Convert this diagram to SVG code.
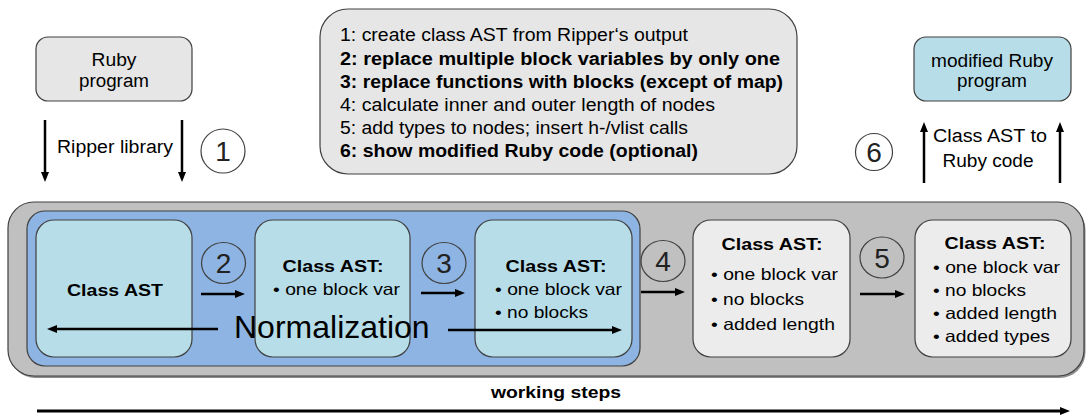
<svg xmlns="http://www.w3.org/2000/svg" width="1087" height="416" viewBox="0 0 1087 416">
<style>
text{font-family:"Liberation Sans",Arial,sans-serif;fill:#000}
.b{font-weight:bold}
.t{font-size:17.5px}
.s{font-size:16.5px}
.m{font-size:18px}
.c{text-anchor:middle}
.num{font-size:28px;text-anchor:middle;fill:#222}
.gray{fill:#e6e6e6;stroke:#404040;stroke-width:1.2}
.lgray{fill:#ececec;stroke:#404040;stroke-width:1.2}
.teal{fill:#b7dee8;stroke:#404040;stroke-width:1.2}
.circ{fill:none;stroke:#404040;stroke-width:1.2}
.arr{stroke:#000;stroke-width:2.5;fill:none;marker-end:url(#ah)}
</style>
<defs>
<marker id="ah" markerWidth="10" markerHeight="8" refX="2" refY="4" orient="auto" markerUnits="userSpaceOnUse"><path d="M0,0 L10,4 L0,8 z" fill="#000"/></marker>
</defs>
<rect width="1087" height="416" fill="#fff"/>

<g id="ruby-program">
<rect class="gray" x="36" y="37" width="156" height="64" rx="12"/>
<text class="m c" x="114" y="66" textLength="45" lengthAdjust="spacingAndGlyphs">Ruby</text>
<text class="m c" x="114" y="87" textLength="70" lengthAdjust="spacingAndGlyphs">program</text>
</g>

<g id="legend">
<rect class="gray" x="320" y="9" width="477" height="165" rx="28"/>
<text class="t" x="340" y="41" textLength="348" lengthAdjust="spacingAndGlyphs">1: create class AST from Ripper‘s output</text>
<text class="t b" x="340" y="64.5" textLength="440" lengthAdjust="spacingAndGlyphs">2: replace multiple block variables by only one</text>
<text class="t b" x="340" y="88" textLength="443" lengthAdjust="spacingAndGlyphs">3: replace functions with blocks (except of map)</text>
<text class="t" x="340" y="111" textLength="375" lengthAdjust="spacingAndGlyphs">4: calculate inner and outer length of nodes</text>
<text class="t" x="340" y="134" textLength="348" lengthAdjust="spacingAndGlyphs">5: add types to nodes; insert h-/vlist calls</text>
<text class="t b" x="340" y="157" textLength="358" lengthAdjust="spacingAndGlyphs">6: show modified Ruby code (optional)</text>
</g>

<g id="modified-ruby">
<rect class="teal" x="914" y="37" width="157" height="64" rx="12"/>
<text class="m c" x="992" y="66.5" textLength="122" lengthAdjust="spacingAndGlyphs">modified Ruby</text>
<text class="m c" x="992" y="87" textLength="70" lengthAdjust="spacingAndGlyphs">program</text>
</g>

<g id="label-ripper">
<text class="m" x="57" y="153" textLength="116" lengthAdjust="spacingAndGlyphs">Ripper library</text>
</g>
<g id="label-toruby">
<text class="m c" x="990" y="142" textLength="114" lengthAdjust="spacingAndGlyphs">Class AST to</text>
<text class="m c" x="988" y="166.5" textLength="91" lengthAdjust="spacingAndGlyphs">Ruby code</text>
</g>

<g id="step1"><ellipse class="circ" cx="223" cy="151" rx="22" ry="22"/><text class="num" x="223" y="161">1</text></g>
<g id="step6"><ellipse class="circ" cx="874" cy="152" rx="18.5" ry="18.5"/><text class="num" x="874" y="162">6</text></g>

<g id="working-steps">
<rect x="9.5" y="204" width="1076" height="174" rx="26" fill="#8c8c8c"/>
<rect x="8" y="202" width="1076" height="174" rx="26" fill="#c0c0c0" stroke="#404040" stroke-width="1.2"/>
</g>

<g id="normalization">
<rect x="27" y="211" width="613" height="155" rx="18" fill="#8db4e2" stroke="#404040" stroke-width="1.2"/>
</g>

<g id="ast1">
<rect class="teal" x="36" y="220" width="156" height="137" rx="18"/>
<text class="s b c" x="115" y="296" textLength="96" lengthAdjust="spacingAndGlyphs">Class AST</text>
</g>

<g id="ast2">
<rect class="teal" x="255" y="220" width="155" height="137" rx="18"/>
<text class="s b c" x="333" y="272" textLength="101" lengthAdjust="spacingAndGlyphs">Class AST:</text>
<text class="s" x="273" y="295" textLength="127" lengthAdjust="spacingAndGlyphs">• one block var</text>
</g>

<g id="ast3">
<rect class="teal" x="475" y="220" width="157" height="137" rx="18"/>
<text class="s b c" x="556" y="272" textLength="101" lengthAdjust="spacingAndGlyphs">Class AST:</text>
<text class="s" x="495" y="295" textLength="127" lengthAdjust="spacingAndGlyphs">• one block var</text>
<text class="s" x="495" y="318" textLength="93" lengthAdjust="spacingAndGlyphs">• no blocks</text>
</g>

<g id="ast4">
<rect class="lgray" x="693" y="220" width="157" height="137" rx="18"/>
<text class="s b c" x="772" y="250" textLength="101" lengthAdjust="spacingAndGlyphs">Class AST:</text>
<text class="s" x="711" y="280" textLength="127" lengthAdjust="spacingAndGlyphs">• one block var</text>
<text class="s" x="711" y="305" textLength="93" lengthAdjust="spacingAndGlyphs">• no blocks</text>
<text class="s" x="711" y="330" textLength="124" lengthAdjust="spacingAndGlyphs">• added length</text>
</g>

<g id="ast5">
<rect class="lgray" x="915" y="220" width="156" height="137" rx="18"/>
<text class="s b c" x="995" y="248.5" textLength="101" lengthAdjust="spacingAndGlyphs">Class AST:</text>
<text class="s" x="933" y="272.5" textLength="127" lengthAdjust="spacingAndGlyphs">• one block var</text>
<text class="s" x="933" y="295.5" textLength="93" lengthAdjust="spacingAndGlyphs">• no blocks</text>
<text class="s" x="933" y="318.5" textLength="124" lengthAdjust="spacingAndGlyphs">• added length</text>
<text class="s" x="933" y="341.5" textLength="117" lengthAdjust="spacingAndGlyphs">• added types</text>
</g>

<g id="step2"><ellipse class="circ" cx="223.5" cy="263" rx="22" ry="20.5"/><text class="num" x="223.5" y="273">2</text></g>
<g id="step3"><ellipse class="circ" cx="444" cy="263" rx="22" ry="20.5"/><text class="num" x="444" y="273">3</text></g>
<g id="step4"><ellipse class="circ" cx="663" cy="261" rx="22" ry="20.5"/><text class="num" x="663" y="271">4</text></g>
<g id="step5"><ellipse class="circ" cx="882" cy="257.5" rx="22" ry="20.5"/><text class="num" x="882" y="267.5">5</text></g>

<g id="connectors">
<path class="arr" d="M45,120 V174"/>
<path class="arr" d="M182,120 V174"/>
<path class="arr" d="M924,183 V130"/>
<path class="arr" d="M1060,183 V130"/>
<path class="arr" d="M201,294 H237"/>
<path class="arr" d="M421,293 H457"/>
<path class="arr" d="M641,292 H677"/>
<path class="arr" d="M860,294 H897"/>
<path class="arr" d="M218,329 H55"/>
<path class="arr" d="M448,330 H614"/>
<path class="arr" style="stroke-width:3" d="M37,411 H1062"/>
</g>

<g id="normalization-label">
<text x="234" y="338" style="font-size:32px">Normalization</text>
</g>

<g id="working-steps-label">
<text class="s b c" x="556" y="398" textLength="130" lengthAdjust="spacingAndGlyphs">working steps</text>
</g>
</svg>
